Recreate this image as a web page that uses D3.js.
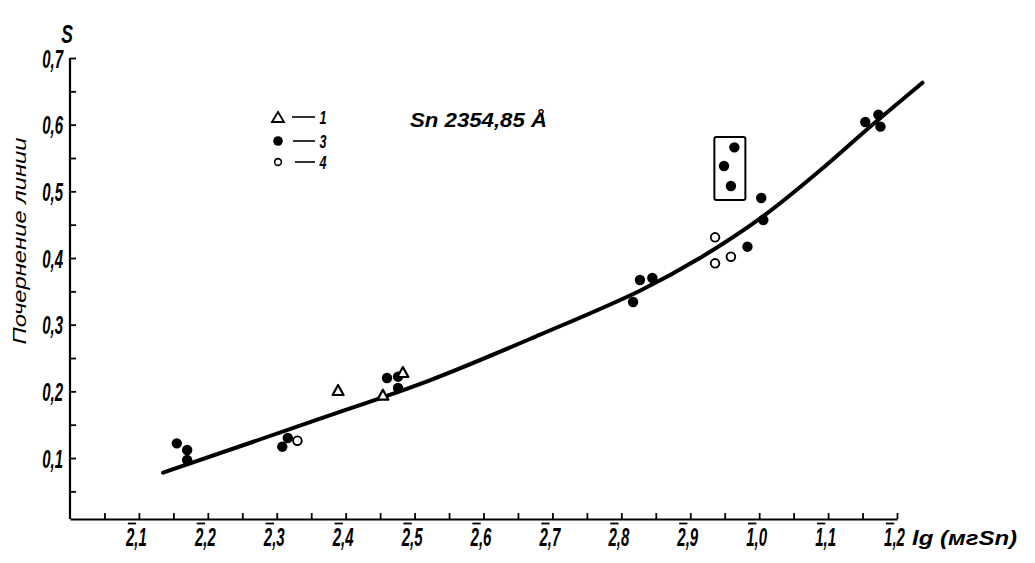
<!DOCTYPE html>
<html><head><meta charset="utf-8">
<script src="https://cdn.jsdelivr.net/npm/d3@7"></script>
<style>
html,body{margin:0;padding:0;background:#fff;}
svg{display:block;font-family:"Liberation Sans",Arial,sans-serif;font-style:italic;}
</style></head><body>
<svg id="chart" width="1035" height="563"></svg>
<script>
// ---- data ----
const xTickValues = [-1.9,-1.8,-1.7,-1.6,-1.5,-1.4,-1.3,-1.2,-1.1,-1.0,-0.9,-0.8];
const xTickLabels = ["2,1","2,2","2,3","2,4","2,5","2,6","2,7","2,8","2,9","1,0","1,1","1,2"]; // first char overlined
const yTickValues = [0.1,0.2,0.3,0.4,0.5,0.6,0.7];
const yTickLabels = ["0,1","0,2","0,3","0,4","0,5","0,6","0,7"];

const series1X = [-1.611,-1.546,-1.517];               // triangles "1"
const series1Y = [0.202,0.195,0.229];
const series3X = [-1.845,-1.830,-1.830,-1.692,-1.684,-1.540,-1.524,-1.524,-1.183,-1.173,-1.155,-1.017,-0.994,-0.997,-1.036,-1.051,-1.041,-0.846,-0.827,-0.824];
const series3Y = [0.122,0.112,0.097,0.117,0.130,0.220,0.222,0.205,0.334,0.367,0.370,0.417,0.457,0.490,0.566,0.538,0.508,0.604,0.615,0.597];
const series4X = [-1.670,-1.064,-1.064,-1.041];        // open circles "4"
const series4Y = [0.126,0.431,0.392,0.402];

const curveX = [-1.865,-1.637,-1.477,-1.318,-1.173,-1.086,-0.999,-0.911,-0.839,-0.763];
const curveY = [0.078,0.159,0.217,0.285,0.351,0.400,0.459,0.532,0.597,0.663];

const boxX = [-1.065,-1.020];
const boxY = [0.487,0.5815];

const legendKeys = ["1","3","4"];
const titleText = "Sn 2354,85 Å";
const xAxisTitle = "lg (мгSn)";
const yAxisTitle = "Почернение линии";

// ---- drawing ----
const svg = d3.select("#chart");
const x = d3.scaleLinear().domain([-2.0,-0.8]).range([70,897]);
const y = d3.scaleLinear().domain([0,0.7]).range([524.7,58]);
const axisY = 519;
const SX = 0.6; // horizontal condensing of the lettering
const FONT = "Liberation Sans, Arial, sans-serif";

const xMinor = d3.range(0,24).map(i => +(-1.95 + i*0.05).toFixed(2));
const gx = svg.append("g").attr("transform",`translate(0,${axisY})`)
  .call(d3.axisBottom(x).tickValues(xMinor).tickSize(-6).tickSizeOuter(0).tickFormat(""));
gx.select(".domain").attr("stroke","#000").attr("stroke-width",2.2);
gx.selectAll(".tick line").attr("stroke","#000").attr("stroke-width",1.8);

const gxl = svg.append("g").attr("transform",`translate(0,${axisY})`)
  .call(d3.axisBottom(x).tickValues(xTickValues).tickSize(0).tickFormat((d,i)=>xTickLabels[i]));
gxl.select(".domain").remove();
gxl.selectAll(".tick").each(function(d,i){
  const g = d3.select(this);
  const t = g.select("text");
  const lab = xTickLabels[i];
  t.text(null).attr("y",27).attr("dy",null).attr("x",-3/SX)
   .attr("font-size",25).attr("font-family",FONT).attr("font-weight","bold")
   .attr("font-style","italic").attr("fill","#000")
   .attr("transform",`scale(${SX},1)`);
  t.append("tspan").text(lab[0]);
  t.append("tspan").text(lab.slice(1));
  const e = t.node().getExtentOfChar(0);
  g.append("line").attr("x1",(e.x+3)*SX).attr("x2",(e.x+e.width+3)*SX)
   .attr("y1",4.5).attr("y2",4.5).attr("stroke","#000").attr("stroke-width",1.8);
});

const yMinor = d3.range(1,15).map(i => +(i*0.05).toFixed(2));
const gy = svg.append("g").attr("transform","translate(70,0)")
  .call(d3.axisLeft(y).tickValues(yMinor).tickSize(-6).tickSizeOuter(0).tickFormat(""));
gy.select(".domain").attr("d",`M0,${axisY}V${y(0.7)}`).attr("stroke","#000").attr("stroke-width",2.2);
gy.selectAll(".tick line").attr("stroke","#000").attr("stroke-width",1.8);

const gyl = svg.append("g").attr("transform","translate(70,0)")
  .call(d3.axisLeft(y).tickValues(yTickValues).tickSize(0).tickFormat((d,i)=>yTickLabels[i]));
gyl.select(".domain").remove();
gyl.selectAll(".tick text").attr("x",-7/SX).attr("dy","0.36em")
  .attr("font-size",25).attr("font-family",FONT).attr("font-weight","bold")
  .attr("font-style","italic").attr("fill","#000").attr("text-anchor","end")
  .attr("transform",`scale(${SX},1)`);

// axis titles
svg.append("text").attr("transform",`translate(67,43) scale(0.7,1)`)
  .attr("text-anchor","middle").attr("font-size",25).attr("font-weight","bold").text("S");
svg.append("text").attr("x",912).attr("y",545).attr("font-size",21).attr("font-weight","bold")
  .attr("textLength",105).attr("lengthAdjust","spacingAndGlyphs").text(xAxisTitle);
svg.append("text").attr("transform","translate(26,241) rotate(-90)")
  .attr("text-anchor","middle").attr("font-size",19)
  .attr("textLength",207).attr("lengthAdjust","spacingAndGlyphs").text(yAxisTitle);

// title
svg.append("text").attr("x",410).attr("y",127).attr("font-size",21).attr("font-weight","bold")
  .attr("textLength",137).attr("lengthAdjust","spacingAndGlyphs").text(titleText);

// curve
const curvePts = curveX.map((v,i)=>[v,curveY[i]]);
svg.append("path").datum(curvePts)
  .attr("d", d3.line().x(d=>x(d[0])).y(d=>y(d[1])).curve(d3.curveCatmullRom.alpha(0.5)))
  .attr("fill","none").attr("stroke","#000").attr("stroke-width",4).attr("stroke-linecap","round");

// box around outliers
svg.append("rect").attr("x",x(boxX[0])).attr("y",y(boxY[1]))
  .attr("width",x(boxX[1])-x(boxX[0])).attr("height",y(boxY[0])-y(boxY[1]))
  .attr("rx",2).attr("fill","none").attr("stroke","#000").attr("stroke-width",2);

// points
const tri = (cx,cy,w,h)=>`M${cx-w/2},${cy+h/2}L${cx},${cy-h/2}L${cx+w/2},${cy+h/2}Z`;
svg.append("g").selectAll("circle").data(series3X.map((v,i)=>[v,series3Y[i]])).join("circle")
  .attr("cx",d=>x(d[0])).attr("cy",d=>y(d[1])).attr("r",5.2).attr("fill","#000");
svg.append("g").selectAll("circle").data(series4X.map((v,i)=>[v,series4Y[i]])).join("circle")
  .attr("cx",d=>x(d[0])).attr("cy",d=>y(d[1])).attr("r",4.3)
  .attr("fill","#fff").attr("stroke","#000").attr("stroke-width",1.9);
svg.append("g").selectAll("path").data(series1X.map((v,i)=>[v,series1Y[i]])).join("path")
  .attr("d",d=>tri(x(d[0]),y(d[1]),11,10))
  .attr("fill","#fff").attr("stroke","#000").attr("stroke-width",2.2).attr("stroke-linejoin","round");

// legend
const legY = [117,141,162];
const lg = svg.append("g");
lg.append("path").attr("d",tri(278,legY[0],12,10)).attr("fill","#fff").attr("stroke","#000").attr("stroke-width",1.8);
lg.append("circle").attr("cx",278).attr("cy",legY[1]).attr("r",4.8).attr("fill","#000");
lg.append("circle").attr("cx",278).attr("cy",legY[2]).attr("r",3.4).attr("fill","#fff").attr("stroke","#000").attr("stroke-width",1.6);
const dashX0 = [292,293,295];
legendKeys.forEach((k,i)=>{
  lg.append("line").attr("x1",dashX0[i]).attr("x2",315).attr("y1",legY[i]).attr("y2",legY[i])
    .attr("stroke","#000").attr("stroke-width",1.6);
  lg.append("text").attr("transform",`translate(323,${legY[i]+6.5}) scale(0.7,1)`)
    .attr("text-anchor","middle").attr("font-size",18).attr("font-weight","bold").text(k);
});
</script>
</body></html>
